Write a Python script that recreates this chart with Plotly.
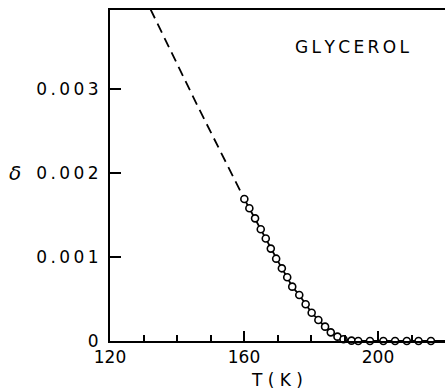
import plotly.graph_objects as go

# Measured points (open circles) and fitted curve
T_pts = [160.1, 161.6, 163.3, 165.0, 166.5, 168.0, 169.6, 171.3, 172.9, 174.4,
         176.5, 178.4, 180.2, 182.2, 184.2, 185.9, 187.9, 189.7, 192.1, 194.1,
         197.6, 201.6, 205.1, 208.6, 212.1, 215.8]
delta_pts = [0.00169, 0.00158, 0.00146, 0.00133, 0.00122, 0.00110, 0.00098, 0.000865,
             0.000758, 0.000647, 0.000548, 0.000437, 0.000337, 0.000250, 0.000171,
             0.000103, 0.000052, 0.000020, 0.000004, 0.0, 0.0, 0.0, 0.0, 0.0, 0.0, 0.0]

# Solid curve continues to the right edge
T_curve = T_pts + [220.0]
delta_curve = delta_pts + [0.0]

# Dashed extrapolation toward low temperature
T_dash = [130.0, 146.0, 160.1]
delta_dash = [0.00412, 0.00281, 0.00169]

x_tickvals = [120, 160, 200]
x_ticktext = ["120", "160", "200"]
y_tickvals = [0, 0.001, 0.002, 0.003]
y_ticktext = ["0", "0.001", "0.002", "0.003"]

ts = "\u2009"
def spaced(s):
    return ts.join(list(s)) if len(s) > 1 else s

FONT = "DejaVu Sans"

fig = go.Figure()
fig.add_trace(go.Scatter(x=T_dash, y=delta_dash, mode="lines",
                         line=dict(color="black", width=1.8, dash="10px,6px"),
                         showlegend=False, hoverinfo="skip"))
fig.add_trace(go.Scatter(x=T_curve, y=delta_curve, mode="lines",
                         line=dict(color="black", width=1.8),
                         showlegend=False, hoverinfo="skip"))
fig.add_trace(go.Scatter(x=T_pts, y=delta_pts, mode="markers",
                         marker=dict(symbol="circle", size=7, color="white",
                                     line=dict(color="black", width=1.6)),
                         showlegend=False, cliponaxis=False))

fig.update_layout(
    width=445, height=391,
    margin=dict(l=110, r=0, t=10, b=50),
    paper_bgcolor="white", plot_bgcolor="white",
    font=dict(family=FONT, size=17, color="black"),
    xaxis=dict(
        range=[120, 220], showgrid=False, zeroline=False,
        showline=True, linewidth=2, linecolor="black", mirror=True,
        ticks="inside", ticklen=10, tickwidth=1.5, tickcolor="black",
        tickvals=x_tickvals, ticktext=x_ticktext,
        minor=dict(ticks="inside", dtick=10, tick0=120, ticklen=6,
                   tickwidth=1.5, tickcolor="black"),
        tickfont=dict(family=FONT, size=17),
        title=dict(text="T ( K )", font=dict(family=FONT, size=17), standoff=8),
        automargin=False,
    ),
    yaxis=dict(
        range=[0, 0.00394], showgrid=False, zeroline=False,
        showline=True, linewidth=2, linecolor="black", mirror=False,
        ticks="inside", ticklen=11, tickwidth=1.5, tickcolor="black",
        tickvals=y_tickvals, ticktext=[spaced(t) for t in y_ticktext],
        tickfont=dict(family=FONT, size=17),
        ticklabelstandoff=6,
        automargin=False,
    ),
    annotations=[
        dict(text=ts.join(list("GLYCEROL")), xref="paper", yref="paper",
             x=0.725, y=0.8897, xanchor="center", yanchor="middle",
             showarrow=False, font=dict(family=FONT, size=17)),
        dict(text="<i>δ</i>", xref="paper", yref="y",
             x=-0.2836, y=0.002, xanchor="center", yanchor="middle",
             showarrow=False, font=dict(family=FONT, size=20)),
    ],
)

fig.write_html("out.html")
